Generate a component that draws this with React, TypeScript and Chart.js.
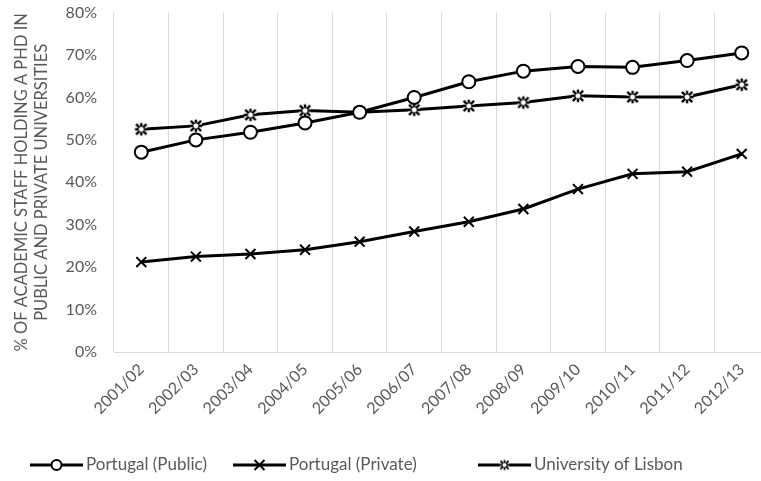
import React, { useEffect, useRef } from 'react';
import { Chart, registerables } from 'chart.js';
Chart.register(...registerables);

const categories = ['2001/02', '2002/03', '2003/04', '2004/05', '2005/06', '2006/07', '2007/08', '2008/09', '2009/10', '2010/11', '2011/12', '2012/13'];
const portugalPublic = [47.1, 50.0, 51.8, 54.0, 56.5, 60.0, 63.7, 66.2, 67.3, 67.1, 68.7, 70.5];
const portugalPrivate = [21.2, 22.5, 23.1, 24.1, 26.0, 28.4, 30.7, 33.7, 38.4, 42.0, 42.5, 46.7];
const lisbon = [52.5, 53.3, 55.9, 56.9, 56.5, 57.1, 58.0, 58.8, 60.4, 60.1, 60.1, 63.0];
const seriesNames = ['Portugal (Public)', 'Portugal (Private)', 'University of Lisbon'];
const yTitle = ['% OF ACADEMIC STAFF HOLDING A PHD IN', 'PUBLIC AND PRIVATE UNIVERSITIES'];
const yMin = 0;
const yMax = 80;
const yStep = 10;

const FONT = "Lato, 'Noto Sans', sans-serif";
const GRAY = '#595959';
const LEGEND_X = [30, 233, 478];
const LEGEND_Y = 465;
const LEGEND_LINE = 53;

function makeStar(r: number, lw: number): HTMLCanvasElement {
  const s = Math.ceil(r * 2 + 4);
  const c = document.createElement('canvas');
  c.width = s;
  c.height = s;
  const ctx = c.getContext('2d')!;
  const cx = s / 2, cy = s / 2;
  ctx.fillStyle = '#fff';
  ctx.fillRect(cx - r * 0.85, cy - r * 0.85, r * 1.7, r * 1.7);
  ctx.strokeStyle = '#000';
  ctx.lineWidth = lw;
  ctx.lineCap = 'butt';
  ctx.beginPath();
  for (let k = 0; k < 8; k++) {
    const a = (k * Math.PI) / 4;
    const rr = k % 2 === 1 ? r * 1.05 : r * 0.9;
    ctx.moveTo(cx + Math.cos(a) * r * 0.35, cy + Math.sin(a) * r * 0.35);
    ctx.lineTo(cx + Math.cos(a) * rr, cy + Math.sin(a) * rr);
  }
  ctx.stroke();
  return c;
}

function drawMarker(ctx: CanvasRenderingContext2D, kind: string, cx: number, cy: number, star: HTMLCanvasElement) {
  ctx.save();
  ctx.strokeStyle = '#000';
  if (kind === 'circle') {
    ctx.fillStyle = '#fff';
    ctx.lineWidth = 2;
    ctx.beginPath();
    ctx.arc(cx, cy, 5, 0, Math.PI * 2);
    ctx.fill();
    ctx.stroke();
  } else if (kind === 'cross') {
    ctx.lineWidth = 2;
    ctx.beginPath();
    ctx.moveTo(cx - 5, cy - 5); ctx.lineTo(cx + 5, cy + 5);
    ctx.moveTo(cx + 5, cy - 5); ctx.lineTo(cx - 5, cy + 5);
    ctx.stroke();
  } else {
    ctx.drawImage(star, cx - star.width / 2, cy - star.height / 2);
  }
  ctx.restore();
}

export default function App() {
  const ref = useRef<HTMLCanvasElement>(null);
  useEffect(() => {
    if (!ref.current) return;
    const starPoint = makeStar(7, 2.4);
    const starLegend = makeStar(5.5, 1.8);
    const kinds = ['circle', 'cross', 'star'];
    const legendPlugin = {
      id: 'customLegend',
      afterDraw(ch: any) {
        const ctx: CanvasRenderingContext2D = ch.ctx;
        ctx.save();
        ch.data.datasets.forEach((ds: any, i: number) => {
          const x0 = LEGEND_X[i];
          ctx.strokeStyle = '#000';
          ctx.lineWidth = 3;
          ctx.beginPath();
          ctx.moveTo(x0, LEGEND_Y);
          ctx.lineTo(x0 + LEGEND_LINE, LEGEND_Y);
          ctx.stroke();
          drawMarker(ctx, kinds[i], x0 + LEGEND_LINE / 2, LEGEND_Y, starLegend);
          ctx.fillStyle = GRAY;
          ctx.font = `17px ${FONT}`;
          ctx.textBaseline = 'middle';
          ctx.textAlign = 'left';
          ctx.fillText(ds.label, x0 + LEGEND_LINE + 3, LEGEND_Y);
        });
        ctx.restore();
      },
    };
    const chart = new Chart(ref.current, {
      type: 'line',
      data: {
        labels: categories,
        datasets: [
          {
            label: seriesNames[0],
            data: portugalPublic,
            borderColor: '#000',
            borderWidth: 3,
            pointStyle: 'circle',
            pointRadius: 6.5,
            pointBorderWidth: 2,
            pointBackgroundColor: '#fff',
            pointBorderColor: '#000',
            tension: 0,
          },
          {
            label: seriesNames[1],
            data: portugalPrivate,
            borderColor: '#000',
            borderWidth: 3,
            pointStyle: 'crossRot',
            pointRadius: 7,
            pointBorderWidth: 2,
            pointBackgroundColor: '#000',
            pointBorderColor: '#000',
            tension: 0,
          },
          {
            label: seriesNames[2],
            data: lisbon,
            borderColor: '#000',
            borderWidth: 3,
            pointStyle: starPoint as any,
            pointRadius: 7,
            pointBorderWidth: 2,
            pointBackgroundColor: '#fff',
            pointBorderColor: '#000',
            tension: 0,
          },
        ],
      },
      options: {
        animation: false,
        responsive: false,
        maintainAspectRatio: false,
        layout: { padding: { left: 8, right: 11, top: 0, bottom: 49 } },
        plugins: {
          tooltip: { enabled: false },
          legend: { display: false },
        },
        scales: {
          x: {
            offset: true,
            grid: { display: true, offset: true, color: '#d9d9d9', drawTicks: false, lineWidth: 1 },
            border: { display: true, color: '#d9d9d9' },
            ticks: {
              autoSkip: false,
              maxRotation: 45,
              minRotation: 45,
              padding: 8,
              color: GRAY,
              font: { family: FONT, size: 16 },
            },
            afterFit: (s: any) => { s.height = 80; },
          },
          y: {
            min: yMin,
            max: yMax,
            grid: { display: true, color: 'rgba(0,0,0,0)', drawTicks: true, tickLength: 14, drawOnChartArea: false },
            border: { display: false },
            ticks: {
              stepSize: yStep,
              padding: 3,
              color: GRAY,
              font: { family: FONT, size: 16 },
              callback: (v: any) => v + '%',
            },
            title: {
              display: true,
              text: yTitle,
              color: GRAY,
              font: { family: FONT, size: 16.5, lineHeight: 1.2 },
              padding: { top: 4, bottom: 0 },
            },
            afterFit: (s: any) => { s.width = 106; },
          },
        },
      },
      plugins: [legendPlugin],
    });
    return () => chart.destroy();
  }, []);
  return (
    <div style={{ position: 'absolute', left: 0, top: 0, width: 761, height: 481, overflow: 'hidden', background: '#fff' }}>
      <canvas ref={ref} width={780} height={481} style={{ width: 780, height: 481, display: 'block' }} />
    </div>
  );
}
